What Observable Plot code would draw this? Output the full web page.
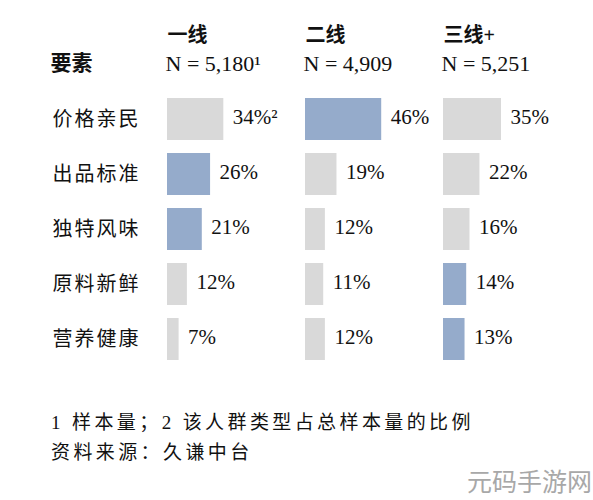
<!DOCTYPE html>
<html>
<head>
<meta charset="utf-8">
<script src="https://cdn.jsdelivr.net/npm/d3@7"></script>
<script src="https://cdn.jsdelivr.net/npm/@observablehq/plot@0.6"></script>
<style>
  html, body { margin: 0; padding: 0; background: #fff; }
  body { width: 593px; height: 500px; position: relative; overflow: hidden;
         font-family: "Liberation Serif", "Noto Sans CJK SC", serif; color: #111; }
  #chart svg { display: block; }
  #chart g[aria-label="y-axis tick label"] text { letter-spacing: 2px; }
  #footer { margin-top: 8px; padding-left: 51px; font-size: 19px; letter-spacing: 3.4px; line-height: 30px; }
  #mark { position: absolute; right: 1px; top: 462px; font-family: "Noto Sans CJK SC", sans-serif;
          font-size: 25px; color: #a8a8a8; letter-spacing: 0px; }
</style>
</head>
<body>
<div id="chart"></div>
<div id="footer"></div>
<div id="mark"></div>
<script>
// ---- data ----
const factors = ["价格亲民", "出品标准", "独特风味", "原料新鲜", "营养健康"];
const tiers = ["一线", "二线", "三线+"];
const sampleSizes = ["5,180", "4,909", "5,251"];
const tier1Values = [34, 26, 21, 12, 7];
const tier2Values = [46, 19, 12, 11, 12];
const tier3Values = [35, 22, 16, 14, 13];
const highlighted = [["出品标准", "独特风味"], ["价格亲民"], ["原料新鲜", "营养健康"]];
const headerLabel = "要素";
const footnotes = ["1 样本量；2 该人群类型占总样本量的比例", "资料来源：久谦中台"];
const watermark = "元码手游网";

const seriesValues = [tier1Values, tier2Values, tier3Values];
const rows = [];
tiers.forEach((tier, i) => {
  factors.forEach((factor, j) => {
    const v = seriesValues[i][j];
    rows.push({
      tier, factor, value: v,
      hl: highlighted[i].includes(factor),
      label: v + "%" + (i === 0 && j === 0 ? "²" : "")
    });
  });
});
const nLabels = tiers.map((t, i) => ({tier: t, text: "N = " + sampleSizes[i] + (i === 0 ? "¹" : "")}));

const FONT = "'Liberation Serif', 'Noto Sans CJK SC', serif";

const chart = Plot.plot({
  width: 593,
  height: 400,
  marginLeft: 166,
  marginRight: 12,
  marginTop: 90,
  marginBottom: 33,
  style: {fontFamily: FONT, fontSize: "21px", color: "#111", background: "white", overflow: "visible"},
  fx: {domain: tiers, padding: 0, axis: null},
  x: {domain: [0, 83.3], axis: null},
  y: {domain: factors, paddingInner: 0.243, paddingOuter: 0.12},
  color: {domain: [false, true], range: ["#d9d9d9", "#95abcb"]},
  marks: [
    Plot.barX(rows, {fx: "tier", y: "factor", x: "value", fill: "hl"}),
    Plot.text(rows, {fx: "tier", y: "factor", x: "value", text: "label",
      textAnchor: "start", dx: 9, dy: -2, fontSize: 21, fill: "#111"}),
    Plot.text(tiers, {fx: d => d, text: d => d, frameAnchor: "top-left",
      textAnchor: "start", lineAnchor: "middle", dy: -55, fontSize: 20, fontWeight: "bold", fill: "#111"}),
    Plot.text(nLabels, {fx: "tier", text: "text", frameAnchor: "top-left",
      textAnchor: "start", lineAnchor: "middle", dx: -2, dy: -27, fontSize: 22, fill: "#111"}),
    Plot.text([{tier: tiers[0], text: headerLabel}], {fx: "tier", text: "text", frameAnchor: "top-left",
      textAnchor: "start", lineAnchor: "middle", dx: -117, dy: -27, fontSize: 21, fontWeight: "bold", fill: "#111"}),
    Plot.axisY({tickSize: 0, tickPadding: 27, fontSize: 20, label: null, fill: "#111"})
  ]
});
document.getElementById("chart").appendChild(chart);

const footer = document.getElementById("footer");
footnotes.forEach(t => {
  const d = document.createElement("div");
  d.textContent = t;
  footer.appendChild(d);
});
document.getElementById("mark").textContent = watermark;
</script>
</body>
</html>
